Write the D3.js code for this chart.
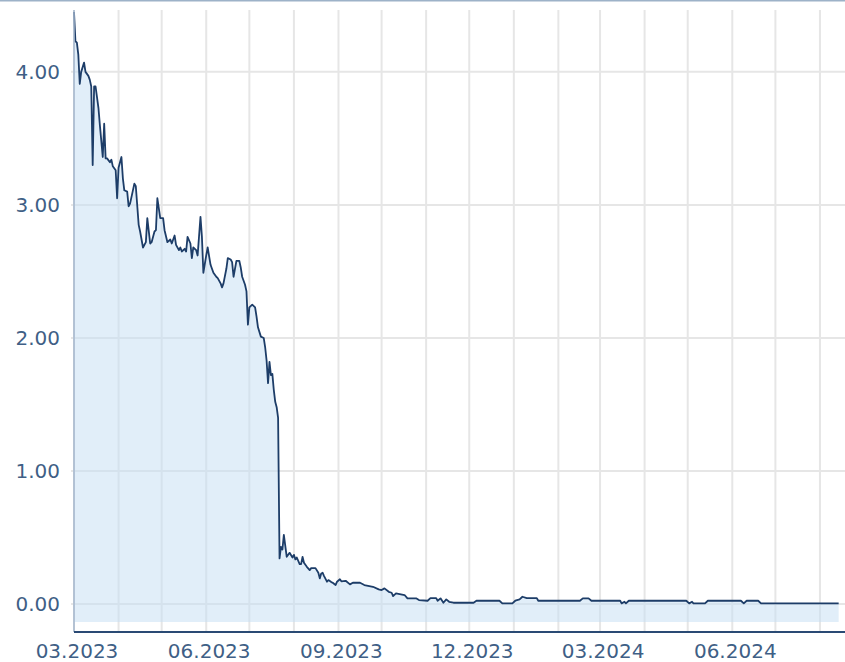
<!DOCTYPE html>
<html>
<head>
<meta charset="utf-8">
<script src="https://cdn.jsdelivr.net/npm/d3@7"></script>
<style>
  html, body { margin: 0; padding: 0; background: #fff; }
  #container { width: 845px; height: 662px; }
</style>
</head>
<body>
<div id="container"></div>
<script>
// data
let dates = [
  "2023-03-01","2023-03-02","2023-03-03","2023-03-04","2023-03-05","2023-03-06","2023-03-08","2023-03-09","2023-03-11","2023-03-12",
  "2023-03-13","2023-03-14","2023-03-15","2023-03-16","2023-03-18","2023-03-19","2023-03-21","2023-03-22","2023-03-23","2023-03-24",
  "2023-03-26","2023-03-27","2023-03-28","2023-03-30","2023-03-31","2023-04-01","2023-04-03","2023-04-04","2023-04-05","2023-04-07",
  "2023-04-08","2023-04-09","2023-04-12","2023-04-13","2023-04-15","2023-04-16","2023-04-18","2023-04-20","2023-04-21","2023-04-23",
  "2023-04-24","2023-04-26","2023-04-27","2023-04-28","2023-04-30","2023-05-02","2023-05-03","2023-05-05","2023-05-07","2023-05-08",
  "2023-05-10","2023-05-11","2023-05-13","2023-05-14","2023-05-15","2023-05-17","2023-05-18","2023-05-19","2023-05-21","2023-05-22",
  "2023-05-23","2023-05-25","2023-05-26","2023-05-28","2023-05-29","2023-05-30","2023-06-01","2023-06-02","2023-06-04","2023-06-05",
  "2023-06-06","2023-06-08","2023-06-09","2023-06-11","2023-06-12","2023-06-13","2023-06-15","2023-06-16","2023-06-18","2023-06-19",
  "2023-06-20","2023-06-22","2023-06-24","2023-06-25","2023-06-26","2023-06-28","2023-06-29","2023-06-30","2023-07-01","2023-07-03",
  "2023-07-05","2023-07-06","2023-07-07","2023-07-09","2023-07-11","2023-07-12","2023-07-13","2023-07-14","2023-07-15","2023-07-16",
  "2023-07-17","2023-07-18","2023-07-19","2023-07-20","2023-07-21","2023-07-22","2023-07-23","2023-07-24","2023-07-25","2023-07-27",
  "2023-07-28","2023-07-29","2023-07-31","2023-08-01","2023-08-02","2023-08-03","2023-08-05","2023-08-06","2023-08-07","2023-08-08",
  "2023-08-10","2023-08-12","2023-08-13","2023-08-16","2023-08-18","2023-08-19","2023-08-20","2023-08-21","2023-08-22","2023-08-24",
  "2023-08-25","2023-08-27","2023-08-28","2023-08-30","2023-08-31","2023-09-02","2023-09-03","2023-09-06","2023-09-09","2023-09-11",
  "2023-09-16","2023-09-19","2023-09-25","2023-09-29","2023-10-01","2023-10-03","2023-10-06","2023-10-08","2023-10-09","2023-10-11",
  "2023-10-17","2023-10-19","2023-10-25","2023-10-27","2023-11-02","2023-11-04","2023-11-08","2023-11-09","2023-11-11","2023-11-13",
  "2023-11-15","2023-11-17","2023-11-20","2023-12-04","2023-12-06","2023-12-22","2023-12-24","2023-12-31","2024-01-02","2024-01-05",
  "2024-01-07","2024-01-10","2024-01-17","2024-01-18","2024-02-16","2024-02-18","2024-02-22","2024-02-24","2024-03-15","2024-03-16",
  "2024-03-18","2024-03-19","2024-03-21","2024-04-30","2024-05-02","2024-05-04","2024-05-05","2024-05-13","2024-05-15","2024-06-07",
  "2024-06-09","2024-06-11","2024-06-19","2024-06-21","2024-08-14"
];
let prices = [
  4.45, 4.23, 4.22, 4.13, 3.91, 4.00, 4.07, 4.00, 3.97, 3.94,
  3.89, 3.30, 3.89, 3.89, 3.73, 3.60, 3.36, 3.61, 3.35, 3.35,
  3.32, 3.34, 3.29, 3.26, 3.05, 3.28, 3.36, 3.20, 3.11, 3.10,
  2.99, 3.01, 3.16, 3.14, 2.85, 2.80, 2.68, 2.72, 2.90, 2.71,
  2.72, 2.80, 2.81, 3.05, 2.90, 2.90, 2.81, 2.72, 2.74, 2.71,
  2.77, 2.70, 2.66, 2.68, 2.65, 2.67, 2.65, 2.76, 2.71, 2.60,
  2.68, 2.66, 2.62, 2.91, 2.76, 2.49, 2.62, 2.68, 2.55, 2.52,
  2.49, 2.46, 2.45, 2.41, 2.38, 2.41, 2.52, 2.60, 2.59, 2.57,
  2.46, 2.58, 2.58, 2.53, 2.46, 2.40, 2.35, 2.10, 2.23, 2.25,
  2.23, 2.16, 2.08, 2.01, 2.00, 1.93, 1.83, 1.66, 1.82, 1.72,
  1.73, 1.61, 1.52, 1.48, 1.40, 0.343, 0.43, 0.41, 0.52, 0.355,
  0.37, 0.385, 0.35, 0.37, 0.336, 0.35, 0.30, 0.30, 0.355, 0.31,
  0.28, 0.255, 0.27, 0.27, 0.235, 0.193, 0.23, 0.235, 0.21, 0.168,
  0.18, 0.165, 0.16, 0.143, 0.168, 0.186, 0.171, 0.175, 0.148, 0.16,
  0.16, 0.143, 0.13, 0.11, 0.105, 0.118, 0.092, 0.085, 0.06, 0.08,
  0.068, 0.043, 0.043, 0.03, 0.025, 0.045, 0.045, 0.025, 0.043, 0.01,
  0.035, 0.017, 0.01, 0.01, 0.025, 0.025, 0.005, 0.005, 0.025, 0.035,
  0.055, 0.045, 0.045, 0.025, 0.025, 0.043, 0.043, 0.025, 0.025, 0.005,
  0.017, 0.005, 0.025, 0.025, 0.005, 0.017, 0.005, 0.005, 0.025, 0.025,
  0.005, 0.025, 0.025, 0.005, 0.005
];
let yTicks = [0, 1, 2, 3, 4];
let yDomain = [-0.21, 4.465];
let areaFloor = -0.135;
let xStart = "2023-03-01";
let xEnd = "2024-08-18T10:00";
let labelMonths = [2, 5, 8, 11]; // 03, 06, 09, 12

let width = 845;
let height = 662;
let margin = { top: 10, right: 0, bottom: 30, left: 74 };

let fontFamily = "DejaVu Sans, Verdana, sans-serif";

function drawChart() {
  let parse = d3.isoParse;
  let data = dates.map((d, i) => ({ date: parse(d), value: prices[i] }));

  let svg = d3
    .select("#container")
    .append("svg")
    .attr("width", width)
    .attr("height", height)
    .style("font-family", fontFamily);

  let x = d3.scaleTime()
    .domain([parse(xStart), parse(xEnd)])
    .range([margin.left, width - margin.right]);
  let y = d3.scaleLinear()
    .domain(yDomain)
    .range([height - margin.bottom, margin.top]);

  // 顶部细线
  svg.append("line")
    .attr("x1", 0).attr("x2", width)
    .attr("y1", 0.75).attr("y2", 0.75)
    .attr("stroke", "#9db2c8")
    .attr("stroke-width", 1.5);

  // 网格
  let months = x.ticks(d3.timeMonth.every(1));
  svg.append("g")
    .selectAll("line")
    .data(months)
    .join("line")
    .attr("x1", d => x(d)).attr("x2", d => x(d))
    .attr("y1", margin.top).attr("y2", height - margin.bottom)
    .attr("stroke", "#e6e6e6")
    .attr("stroke-width", 2);

  svg.append("g")
    .selectAll("line")
    .data(yTicks)
    .join("line")
    .attr("x1", margin.left - 3).attr("x2", width - margin.right)
    .attr("y1", d => y(d)).attr("y2", d => y(d))
    .attr("stroke", "#e6e6e6")
    .attr("stroke-width", 2);

  // 面积
  let area = d3.area()
    .x(d => x(d.date))
    .y0(y(areaFloor))
    .y1(d => y(d.value));
  svg.append("path")
    .datum(data)
    .attr("d", area)
    .attr("fill", "#c4ddf3")
    .attr("fill-opacity", 0.5);

  // 折线
  let line = d3.line()
    .x(d => x(d.date))
    .y(d => y(d.value));
  svg.append("path")
    .datum(data)
    .attr("d", line)
    .attr("fill", "none")
    .attr("stroke", "#1d3d68")
    .attr("stroke-width", 1.8)
    .attr("stroke-linejoin", "round");

  // 坐标轴
  svg.append("line")
    .attr("x1", margin.left).attr("x2", margin.left)
    .attr("y1", margin.top).attr("y2", height - margin.bottom)
    .attr("stroke", "#a3b6cc")
    .attr("stroke-width", 1.5);
  svg.append("line")
    .attr("x1", margin.left).attr("x2", width - margin.right)
    .attr("y1", height - margin.bottom).attr("y2", height - margin.bottom)
    .attr("stroke", "#2a4a74")
    .attr("stroke-width", 2);

  // 文字
  svg.append("g")
    .selectAll("text")
    .data(yTicks)
    .join("text")
    .attr("x", margin.left - 14)
    .attr("y", d => y(d))
    .attr("dy", "0.36em")
    .attr("text-anchor", "end")
    .attr("font-size", 20)
    .attr("fill", "#3f5f86")
    .text(d => d3.format(".2f")(d));

  let quarters = months.filter(d => labelMonths.includes(d.getMonth()));
  svg.append("g")
    .selectAll("text")
    .data(quarters)
    .join("text")
    .attr("x", d => x(d) + 3)
    .attr("y", height - 4)
    .attr("text-anchor", "middle")
    .attr("font-size", 20)
    .attr("fill", "#3f5f86")
    .text(d => d3.timeFormat("%m.%Y")(d));
}

drawChart();
</script>
</body>
</html>
